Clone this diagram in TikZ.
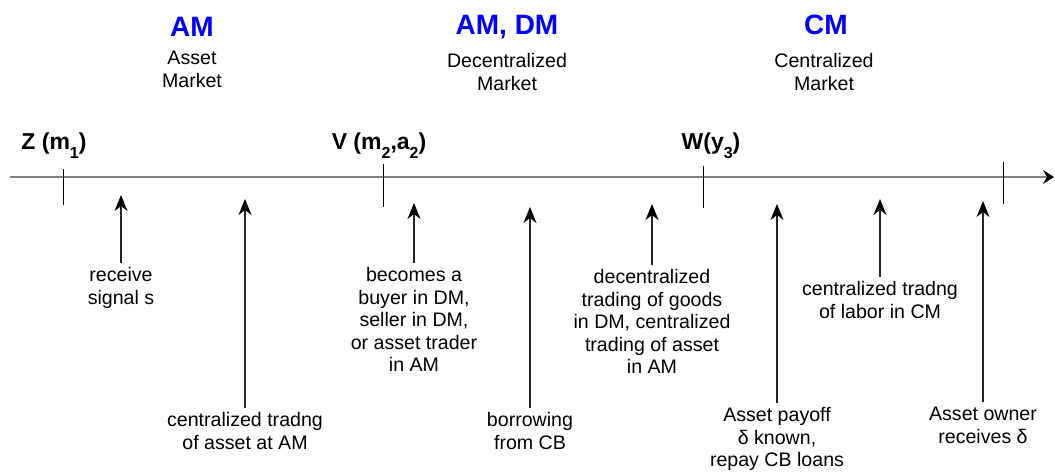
\documentclass[tikz,border=0pt]{standalone}
\usepackage{fontspec}
\setmainfont{Liberation Sans}
\usetikzlibrary{arrows.meta}
\newcommand{\tsub}[1]{\raisebox{-9pt}{\fontsize{16}{16}\selectfont #1}}

\begin{document}
\begin{tikzpicture}[x=1pt, y=-1pt,
    axis/.style={draw=black!50, line width=1.6pt, -{Stealth[length=11pt, width=14pt, inset=4pt, color=black]}},
    tick/.style={draw=black, line width=1pt},
    arr/.style={draw=black!85, line width=1.2pt, -{Stealth[length=16pt, width=13pt, inset=5pt, color=black]}},
    mkt/.style={font=\fontsize{28}{30}\selectfont\bfseries, text=blue, anchor=base, inner sep=0pt},
    state/.style={font=\fontsize{23}{26}\selectfont\bfseries, anchor=base, inner sep=0pt},
    note/.style={anchor=north, align=center, inner sep=3pt, font=\fontsize{19.6}{22.5}\selectfont}
]
\useasboundingbox (0,0) rectangle (1055,474);

% markets on top
\node[mkt] (am) at (192,36) {AM};
\node[note] (amt) at (192,46) {\strut Asset\\Market};
\node[mkt] (dm) at (507,34) {AM, DM};
\node[note] (dmt) at (507,49) {\strut Decentralized\\Market};
\node[mkt] (cm) at (826,34) {CM};
\node[note] (cmt) at (824,49) {\strut Centralized\\Market};

% time line
\coordinate (axL) at (10,177);
\coordinate (axR) at (1054,177);
\draw[axis] (axL) -- (axR);
\draw[tick] (63,169) -- (63,205);
\draw[tick] (383,164) -- (383,207);
\draw[tick] (703,166) -- (703,208);
\draw[tick] (1003,162) -- (1003,204);

\node[state] (zl) at (54,149) {Z (m\tsub{1})};
\node[state] (vl) at (379,149) {V (m\tsub{2},a\tsub{2})};
\node[state] (wl) at (711,149) {W(y\tsub{3})};

% events
\node[note] (rs) at (121,263) {\strut receive\\signal s};
\node[note] (ca) at (245,408) {\strut centralized tradng\\of asset at AM};
\node[note] (bb) at (414,263) {\strut becomes a\\buyer in DM,\\seller in DM,\\or asset trader\\in AM};
\node[note] (bc) at (530,408) {\strut borrowing\\from CB};
\node[note] (dt) at (652,265) {\strut decentralized\\trading of goods\\in DM, centralized\\trading of asset\\in AM};
\node[note] (ap) at (777,403) {\strut Asset payoff\\δ known,\\repay CB loans};
\node[note] (cl) at (880,277) {\strut centralized tradng\\of labor in CM};
\node[note] (ao) at (983,402) {\strut Asset owner\\receives δ};

\coordinate (t1) at (121,195);
\coordinate (t2) at (245,199);
\coordinate (t3) at (414,203);
\coordinate (t4) at (530,207);
\coordinate (t5) at (652,204);
\coordinate (t6) at (777,204);
\coordinate (t7) at (880,199);
\coordinate (t8) at (983,201);

\draw[arr] (rs.north) -- (t1);
\draw[arr] (ca.north) -- (t2);
\draw[arr] (bb.north) -- (t3);
\draw[arr] (bc.north) -- (t4);
\draw[arr] (dt.north) -- (t5);
\draw[arr] (ap.north) -- (t6);
\draw[arr] (cl.north) -- (t7);
\draw[arr] (ao.north) -- (t8);
\end{tikzpicture}
\end{document}
